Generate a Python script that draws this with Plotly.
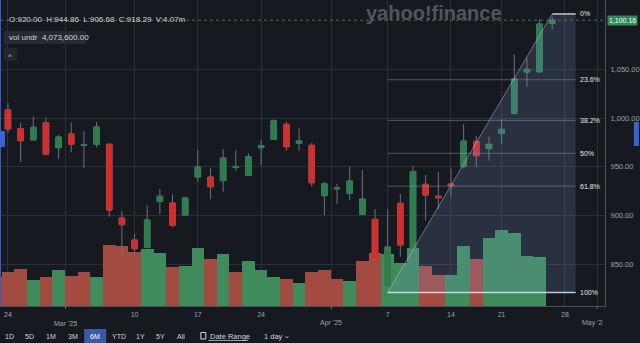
import plotly.graph_objects as go

# ---------------- data ----------------
dates = ["2025-02-21",
         "2025-02-24", "2025-02-25", "2025-02-26", "2025-02-27", "2025-02-28",
         "2025-03-03", "2025-03-04", "2025-03-05", "2025-03-06", "2025-03-07",
         "2025-03-10", "2025-03-11", "2025-03-12", "2025-03-13", "2025-03-14",
         "2025-03-17", "2025-03-18", "2025-03-19", "2025-03-20", "2025-03-21",
         "2025-03-24", "2025-03-25", "2025-03-26", "2025-03-27", "2025-03-28",
         "2025-03-31", "2025-04-01", "2025-04-02", "2025-04-03", "2025-04-04",
         "2025-04-07", "2025-04-08", "2025-04-09", "2025-04-10", "2025-04-11",
         "2025-04-14", "2025-04-15", "2025-04-16", "2025-04-17",
         "2025-04-21", "2025-04-22", "2025-04-23", "2025-04-24", "2025-04-25"]
opens = [1020.0,
         1008.2, 989.0, 977.5, 995.2, 969.6,
         983.6, 971.8, 973.1, 973.1, 897.5,
         875.0, 867.5, 914.6, 912.9, 900.6,
         939.5, 939.5, 935.8, 949.2, 941.3,
         969.6, 978.2, 993.5, 974.1, 972.0,
         920.4, 927.4, 922.8, 901.3, 896.2,
         827.9, 912.6, 866.5, 932.1, 920.00,
         932.4, 950.1, 976.1, 968.6,
         984.3, 1004.8, 1047.1, 1047.4, 1097.0]
highs = [1024.0,
         1015.4, 994.9, 1001.3, 1000.7, 982.6,
         995.6, 986.7, 995.9, 974.1, 905.0,
         881.1, 910.6, 927.3, 921.8, 919.4,
         967.2, 948.5, 967.9, 967.2, 963.8,
         977.5, 998.7, 996.2, 989.4, 974.7,
         934.7, 932.4, 950.1, 946.7, 906.4,
         906.5, 922.1, 951.1, 941.6, 944.86,
         948.5, 993.5, 981.6, 980.8,
         999.0, 1065.3, 1061.2, 1101.1, 1104.0]
lows = [1000.0,
        984.6, 954.9, 977.5, 962.0, 958.3,
        964.9, 948.5, 970.0, 898.9, 858.9,
        854.5, 866.1, 901.6, 888.0, 900.0,
        934.7, 916.7, 924.5, 946.0, 941.3,
        951.8, 978.2, 966.5, 966.5, 929.6,
        900.6, 911.9, 916.0, 900.6, 854.5,
        821.1, 857.9, 855.2, 894.8, 906.68,
        919.4, 948.5, 950.1, 956.3,
        973.4, 1003.0, 1032.1, 1046.0, 1091.0]
closes = [1003.0,
          988.7, 976.7, 990.5, 962.8, 980.5,
          973.1, 972.6, 990.8, 905.7, 890.7,
          866.1, 895.5, 919.8, 890.0, 918.0,
          949.8, 929.6, 959.0, 950.4, 960.3,
          971.6, 997.2, 970.6, 976.4, 933.7,
          932.7, 928.2, 935.4, 917.0, 855.8,
          867.8, 869.9, 945.0, 921.1, 918.29,
          930.6, 976.4, 961.4, 973.1,
          988.4, 1040.0, 1049.9, 1096.3, 1100.16]
volumes_m = [3.86,
             4.47, 4.83, 3.42, 3.77, 4.74,
             3.99, 4.47, 3.86, 8.03, 7.90,
             7.10, 7.50, 6.97, 5.09, 5.30,
             7.67, 6.14, 6.80, 4.50, 5.96,
             4.74, 3.82, 3.55, 3.07, 4.47,
             4.70, 3.55, 3.29, 5.92, 6.93,
             6.80, 5.70, 7.60, 5.26, 4.0736,
             4.07, 7.90, 6.14, 8.90,
             10.00, 9.56, 6.58, 6.49, None]

future_dates = ["2025-04-28", "2025-04-29", "2025-04-30", "2025-05-01", "2025-05-02"]
day_tick_dates = ["2025-02-24", "2025-03-10", "2025-03-17", "2025-03-24",
                  "2025-04-07", "2025-04-14", "2025-04-21", "2025-04-28"]
day_tick_labels = ["24", "10", "17", "24", "7", "14", "21", "28"]
month_first_dates = ["2025-03-03", "2025-04-01", "2025-05-01"]
month_labels = ["Mar '25", "Apr '25", "May '2"]
price_ticks = [850, 900, 950, 1000, 1050]
last_price = 1100.16
header_text = "O:920.00  H:944.86  L:906.68  C:918.29  V:4.07m"
vol_label = "vol undr"
vol_value = "4,073,600.00"
fib_low, fib_high = 821.1, 1106.6
fib_start_date, fib_end_date = "2025-04-07", "2025-04-25"
fib_ratios = [0.0, 0.236, 0.382, 0.5, 0.618, 1.0]
fib_labels = ["0%", "23.6%", "38.2%", "50%", "61.8%", "100%"]
range_buttons = ["1D", "5D", "1M", "3M", "6M", "YTD", "1Y", "5Y", "All"]
active_range = "6M"

# ---------------- helpers ----------------
all_dates = dates + future_dates
pos = {d: i - 1 for i, d in enumerate(all_dates)}   # Feb 24 -> 0
xs = [pos[d] for d in dates]

BG = "#161a20"
GRID = "#2b2f37"
UP = "#2f7d4f"
DOWN = "#d02f2f"
VUP = "#3f8b5c"
VDOWN = "#a44b41"
WICK = "#6c717a"
TXT = "#9ca1a9"
FONT = "Liberation Sans"

PW, PH = 607.0, 306.0
def px(x):
    return x / PW
def py(y):
    return 1 - y / PH

vcolors = []
for i in range(len(closes)):
    ref = closes[i - 1] if i > 0 else opens[i]
    vcolors.append(VUP if closes[i] >= ref else VDOWN)

body_hi = [max(o, c) for o, c in zip(opens, closes)]
body_lo = [min(o, c) for o, c in zip(opens, closes)]

fig = go.Figure()
fig.add_trace(go.Bar(x=xs, y=volumes_m, marker=dict(color=vcolors, line=dict(width=0)),
                     width=1.0, yaxis="y", hoverinfo="skip", showlegend=False))
fig.add_trace(go.Candlestick(x=xs, open=opens, high=highs, low=lows, close=closes, yaxis="y2",
                             increasing=dict(line=dict(color=WICK, width=1), fillcolor=WICK),
                             decreasing=dict(line=dict(color=WICK, width=1), fillcolor=WICK),
                             whiskerwidth=0, showlegend=False, hoverinfo="skip"))
fig.add_trace(go.Candlestick(x=xs, open=opens, high=body_hi, low=body_lo, close=closes, yaxis="y2",
                             increasing=dict(line=dict(color=UP, width=1), fillcolor=UP),
                             decreasing=dict(line=dict(color=DOWN, width=1), fillcolor=DOWN),
                             whiskerwidth=0, showlegend=False, hoverinfo="skip"))

# ticks
month_pos = [pos[d] - 0.45 for d in month_first_dates]
tickvals = [pos[d] for d in day_tick_dates] + month_pos
ticktext = day_tick_labels + [""] * len(month_pos)

shapes = []
annotations = []

# fib drawing
x0 = pos[fib_start_date]
x1 = pos[fib_end_date]
xr = x1 + 1.85
shapes.append(dict(type="path", xref="x", yref="y2", layer="above",
                   path=f"M {x0},{fib_low} L {x1},{fib_high} L {xr},{fib_high} L {xr},{fib_low} Z",
                   fillcolor="rgba(125,155,210,0.18)", line=dict(width=0)))
shapes.append(dict(type="line", xref="x", yref="y2", layer="above", x0=x0, y0=fib_low, x1=x1, y1=fib_high,
                   line=dict(color="rgba(200,210,225,0.45)", width=1)))
for r, lab in zip(fib_ratios, fib_labels):
    lvl = fib_high - r * (fib_high - fib_low)
    strong = r in (0.0, 1.0)
    shapes.append(dict(type="line", xref="x", yref="y2", layer="above",
                       x0=(x1 if r == 0.0 else x0), x1=xr, y0=lvl, y1=lvl,
                       line=dict(color="rgba(225,228,232,0.85)" if strong else "rgba(150,160,175,0.45)",
                                 width=1.5 if strong else 1)))
    annotations.append(dict(x=xr + 0.15, y=lvl, xref="x", yref="y2", text=lab, showarrow=False,
                            xanchor="left", yanchor="middle",
                            font=dict(family=FONT, size=7, color="#e4e6ea")))

# last price line + label
shapes.append(dict(type="line", xref="paper", yref="y2", layer="above", x0=0, x1=1,
                   y0=last_price, y1=last_price, line=dict(color="rgba(70,150,100,0.75)", width=1, dash="3px,3px")))
annotations.append(dict(x=px(609), y=last_price, xref="paper", yref="y2", text=f"{last_price:,.2f}",
                        showarrow=False, xanchor="left", yanchor="middle", bgcolor="#2f8a55",
                        borderpad=1, font=dict(family=FONT, size=7, color="#ffffff")))

# month labels and small dotted ticks
for mp, ml in zip(month_pos, month_labels):
    if ml.startswith("May"):
        annotations.append(dict(x=1.0, y=py(323), xref="paper", yref="paper", text=ml, showarrow=False,
                                xanchor="right", yanchor="middle", font=dict(family=FONT, size=7, color=TXT)))
    else:
        annotations.append(dict(x=mp, y=py(323), xref="x", yref="paper", text=ml, showarrow=False,
                                xanchor="center", yanchor="middle", font=dict(family=FONT, size=7, color=TXT)))
    shapes.append(dict(type="line", xref="x", yref="paper", x0=mp, x1=mp, y0=py(306), y1=py(312),
                       line=dict(color="#6c717a", width=1, dash="dot")))

# left / right blue edge markers
shapes.append(dict(type="line", xref="paper", yref="paper", x0=px(0.5), x1=px(0.5), y0=py(0), y1=py(306),
                   line=dict(color="#3a5fc4", width=1)))
shapes.append(dict(type="rect", xref="paper", yref="paper", x0=0, x1=px(5), y0=py(147), y1=py(131),
                   fillcolor="#3a62d0", line=dict(width=0)))
shapes.append(dict(type="rect", xref="paper", yref="paper", x0=px(636), x1=px(641), y0=py(146), y1=py(122),
                   fillcolor="#3a62d0", line=dict(width=0)))

# header text
annotations.append(dict(x=px(7), y=py(20), xref="paper", yref="paper",
                        text=header_text.replace("  ", "\u00a0\u00a0"), showarrow=False,
                        xanchor="left", yanchor="middle", font=dict(family=FONT, size=8, color="#d0d4da")))
shapes.append(dict(type="rect", xref="paper", yref="paper", x0=px(4), x1=px(87), y0=py(44), y1=py(31),
                   fillcolor="#262a32", line=dict(width=0), layer="above"))
annotations.append(dict(x=px(7), y=py(37.5), xref="paper", yref="paper",
                        text=f"{vol_label}\u00a0\u00a0{vol_value}", showarrow=False,
                        xanchor="left", yanchor="middle", font=dict(family=FONT, size=8, color="#d0d4da")))
shapes.append(dict(type="rect", xref="paper", yref="paper", x0=px(4), x1=px(17), y0=py(61), y1=py(48),
                   fillcolor="#22262d", line=dict(width=0), layer="above"))
annotations.append(dict(x=px(10.5), y=py(56), xref="paper", yref="paper", text="^", showarrow=False,
                        xanchor="center", yanchor="middle", font=dict(family=FONT, size=8, color="#c9cdd3")))

# logo
annotations.append(dict(x=px(435), y=py(13), xref="paper", yref="paper", text="<b>yahoo!finance</b>",
                        showarrow=False, xanchor="center", yanchor="middle",
                        font=dict(family=FONT, size=20, color="#50555e")))

# bottom toolbar
btn_x = [10, 30, 51, 73, 95.5, 119, 141, 161, 182]
TB_Y = 336
for bx, lab in zip(btn_x, range_buttons):
    if lab == active_range:
        shapes.append(dict(type="rect", xref="paper", yref="paper", x0=px(bx - 11), x1=px(bx + 11),
                           y0=py(343), y1=py(329), fillcolor="#3b5aa6", line=dict(width=0)))
    annotations.append(dict(x=px(bx), y=py(TB_Y), xref="paper", yref="paper", text=lab, showarrow=False,
                            xanchor="center", yanchor="middle",
                            font=dict(family=FONT, size=7, color="#ffffff" if lab == active_range else "#d0d3d8")))
shapes.append(dict(type="rect", xref="paper", yref="paper", x0=px(201.5), x1=px(206.5), y0=py(339), y1=py(332.5),
                   fillcolor="rgba(0,0,0,0)", line=dict(color="#d0d3d8", width=1)))
annotations.append(dict(x=px(209), y=py(TB_Y), xref="paper", yref="paper", text="Date Range", showarrow=False,
                        xanchor="left", yanchor="middle", font=dict(family=FONT, size=7.5, color="#d0d3d8")))
shapes.append(dict(type="line", xref="paper", yref="paper", x0=px(209), x1=px(249), y0=py(340.5), y1=py(340.5),
                   line=dict(color="#d0d3d8", width=0.7)))
annotations.append(dict(x=px(263), y=py(TB_Y), xref="paper", yref="paper", text="1 day", showarrow=False,
                        xanchor="left", yanchor="middle", font=dict(family=FONT, size=7.5, color="#d0d3d8")))
annotations.append(dict(x=px(287.5), y=py(TB_Y - 0.5), xref="paper", yref="paper", text="⌄", showarrow=False,
                        xanchor="center", yanchor="middle", font=dict(family="DejaVu Sans", size=7, color="#d0d3d8")))

y2_lo = 1000 - (306 - 118) * 1.0246
y2_hi = 1000 + 118 * 1.0246

fig.update_layout(
    width=640, height=343,
    margin=dict(l=0, r=33, t=0, b=37),
    paper_bgcolor=BG, plot_bgcolor=BG,
    boxgap=0.37, bargap=0,
    showlegend=False,
    xaxis=dict(range=[-0.63, 47.17], tickmode="array", tickvals=tickvals, ticktext=ticktext,
               showgrid=True, gridcolor=GRID, gridwidth=1, zeroline=False,
               showline=True, linecolor="#4a4f58", linewidth=1, ticks="",
               tickfont=dict(family=FONT, size=7, color=TXT), ticklabelstandoff=2,
               rangeslider=dict(visible=False), fixedrange=True),
    yaxis=dict(range=[0, 306 / 7.6], visible=False, showgrid=False, zeroline=False, fixedrange=True),
    yaxis2=dict(range=[y2_lo, y2_hi], overlaying="y", side="right", tickmode="array",
                tickvals=price_ticks, tickformat=",.2f", showgrid=True, gridcolor=GRID, gridwidth=1,
                zeroline=False, showline=True, linecolor="#4a4f58", linewidth=1, ticks="",
                ticklabelstandoff=3, tickfont=dict(family=FONT, size=7.5, color=TXT), fixedrange=True),
    shapes=shapes,
    annotations=annotations,
)

fig.write_html("out.html")
